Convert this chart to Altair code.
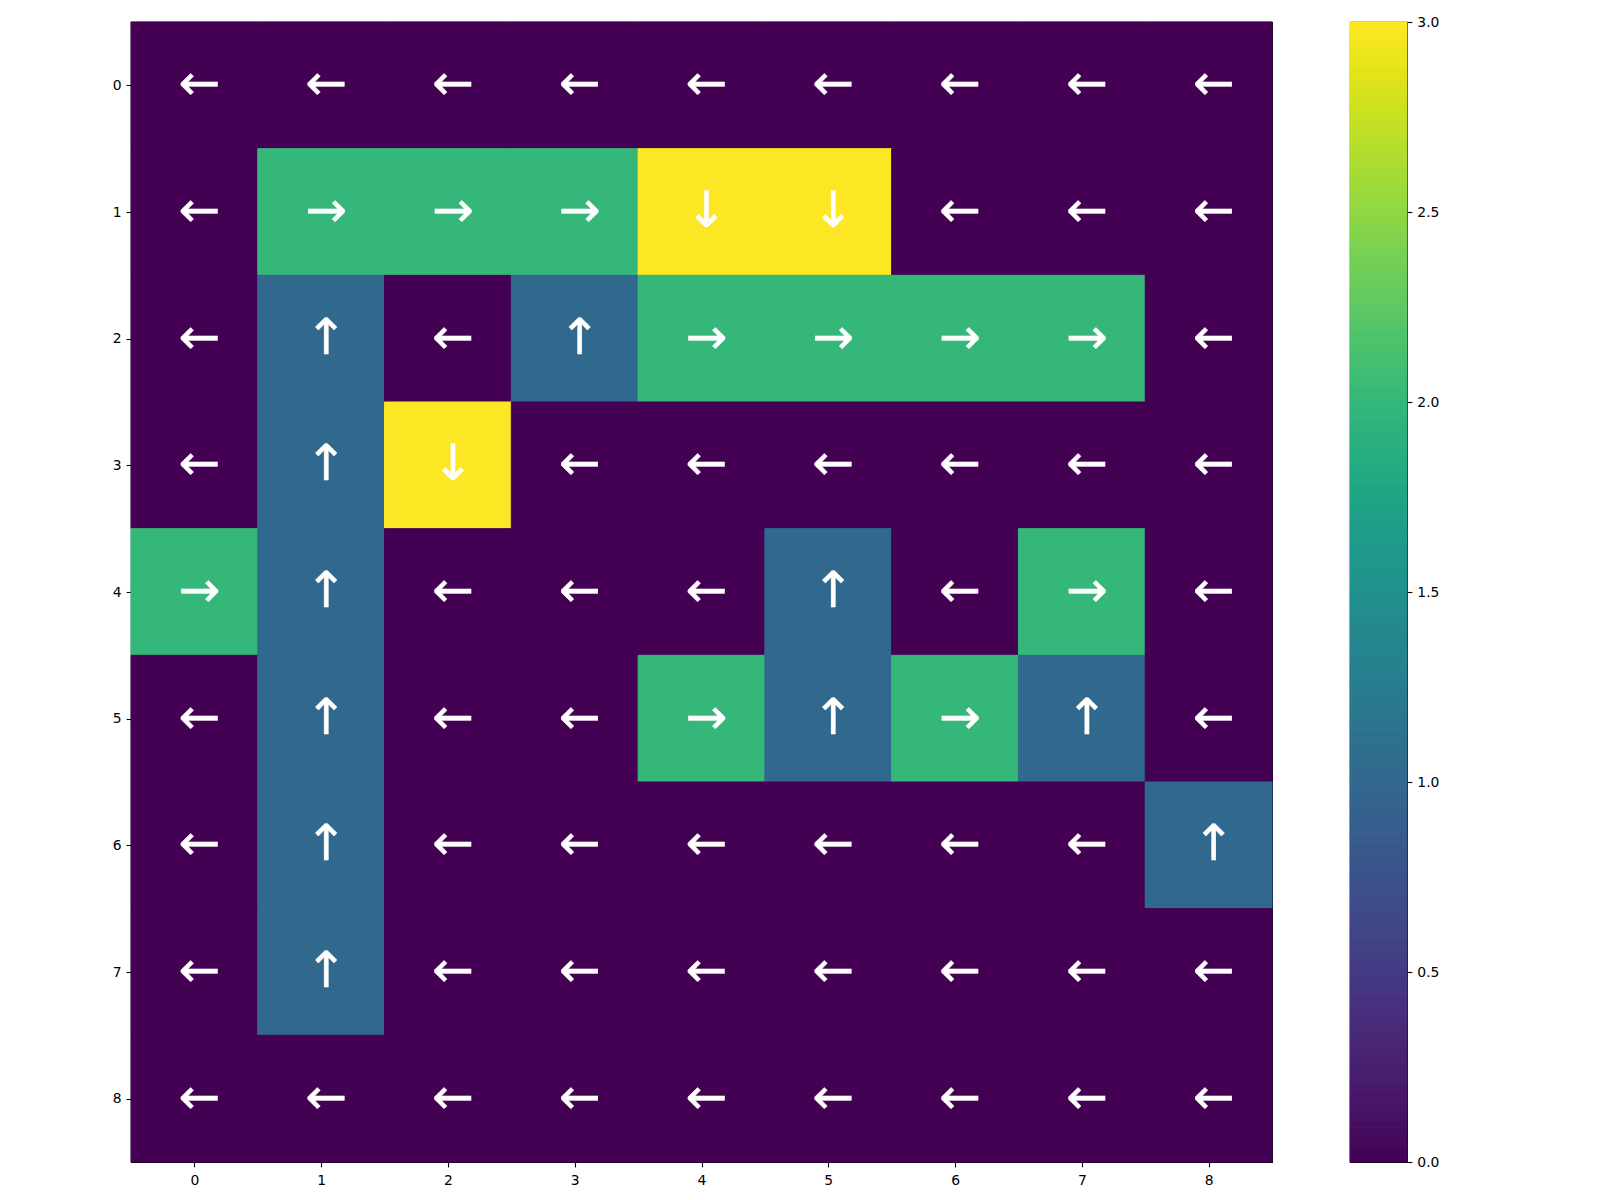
import altair as alt
import pandas as pd
import numpy as np

# grid of action values (rows top->bottom, cols left->right)
grid = [
    [0, 0, 0, 0, 0, 0, 0, 0, 0],
    [0, 2, 2, 2, 3, 3, 0, 0, 0],
    [0, 1, 0, 1, 2, 2, 2, 2, 0],
    [0, 1, 3, 0, 0, 0, 0, 0, 0],
    [2, 1, 0, 0, 0, 1, 0, 2, 0],
    [0, 1, 0, 0, 2, 1, 2, 1, 0],
    [0, 1, 0, 0, 0, 0, 0, 0, 1],
    [0, 1, 0, 0, 0, 0, 0, 0, 0],
    [0, 0, 0, 0, 0, 0, 0, 0, 0],
]
arrow_for = {0: "←", 1: "↑", 2: "→", 3: "↓"}
tick_values = list(range(9))
cbar_ticks = [0.0, 0.5, 1.0, 1.5, 2.0, 2.5, 3.0]

rows = []
for r, line in enumerate(grid):
    for c, v in enumerate(line):
        rows.append({"row": r, "col": c, "value": v, "arrow": arrow_for[v],
                     "x0": c - 0.5, "x1": c + 0.5, "y0": r - 0.5, "y1": r + 0.5})
df = pd.DataFrame(rows)

FS = 13.9
xscale = alt.Scale(domain=[-0.5, 8.5], nice=False, zero=False)
yscale = alt.Scale(domain=[-0.5, 8.5], nice=False, zero=False, reverse=True)
axis_common = dict(values=tick_values, format="d", grid=False, domain=False,
                   tickColor="black", tickSize=4.9, tickWidth=1.1,
                   labelFontSize=FS, labelColor="black",
                   labelFont="DejaVu Sans", title=None)

color_scale = alt.Scale(scheme="viridis", domain=[0, 3])

base = alt.Chart(df)
cells = base.mark_rect(strokeWidth=1).encode(
    x=alt.X("x0:Q", scale=xscale, axis=alt.Axis(**axis_common, labelAngle=0, labelPadding=7)),
    x2="x1:Q",
    y=alt.Y("y0:Q", scale=yscale, axis=alt.Axis(**axis_common, labelPadding=4.9,
                                                 minExtent=20, maxExtent=20)),
    y2="y1:Q",
    color=alt.Color("value:Q", scale=color_scale, legend=None),
    stroke=alt.Stroke("value:Q", scale=color_scale, legend=None),
)
arrows = base.mark_text(color="white", fontSize=50, font="DejaVu Sans",
                        stroke="white", strokeWidth=0.4,
                        baseline="middle", align="center", dx=5).encode(
    x=alt.X("col:Q", scale=xscale),
    y=alt.Y("row:Q", scale=yscale),
    text="arrow:N",
)
main = alt.layer(cells, arrows).properties(width=1141, height=1140)

# colorbar gradient levels
levels = np.linspace(0, 3, 301)
cb = pd.DataFrame({"lv": levels[:-1], "lv2": levels[1:], "cv": (levels[:-1] + levels[1:]) / 2})
cbar = alt.Chart(cb).mark_rect(strokeWidth=1).encode(
    y=alt.Y("lv:Q", scale=alt.Scale(domain=[0, 3], nice=False, zero=False),
            axis=alt.Axis(orient="right", values=cbar_ticks, format=".1f", grid=False,
                          domain=False, tickColor="black", tickSize=4.9, tickWidth=1.1,
                          labelFontSize=FS, labelColor="black", labelPadding=4.9,
                          labelFont="DejaVu Sans", title=None)),
    y2="lv2:Q",
    color=alt.Color("cv:Q", scale=color_scale, legend=None),
    stroke=alt.Stroke("cv:Q", scale=color_scale, legend=None),
).properties(width=57, height=1140)

chart = alt.hconcat(main, cbar, spacing=74).resolve_scale(
    color="independent", stroke="independent").properties(
    padding={"left": 110, "top": 14, "right": 5, "bottom": 5},
    autosize=alt.AutoSizeParams(type="pad"),
    background="white",
).configure_view(stroke="black", strokeWidth=1.1)

chart.save("out.html", embed_options={"renderer": "svg", "actions": False})
